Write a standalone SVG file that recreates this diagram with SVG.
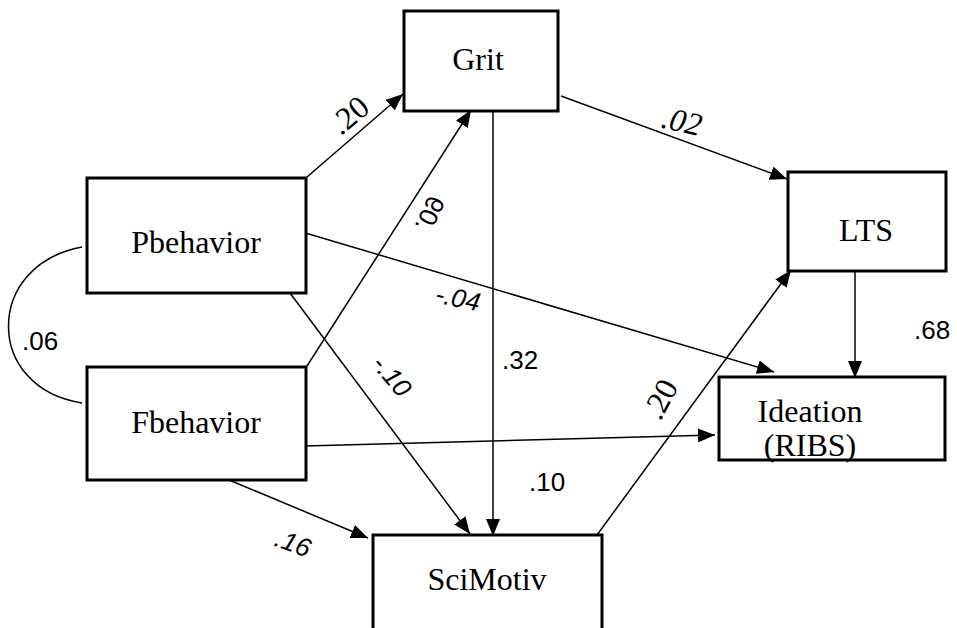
<svg xmlns="http://www.w3.org/2000/svg" width="957" height="628" viewBox="0 0 957 628">
<style>
.box{fill:#fff;stroke:#000;stroke-width:3}
.ln{fill:none;stroke:#000;stroke-width:1.5}
.nt{font-family:"Liberation Serif","Times New Roman",serif;font-size:32px;fill:#000;text-anchor:middle}
.ls{font-family:"Liberation Sans",Arial,sans-serif;font-size:26px;fill:#000}
.lt{font-family:"Liberation Serif","Times New Roman",serif;font-size:32px;fill:#000}
</style>
<defs>
<marker id="ah" markerUnits="userSpaceOnUse" markerWidth="18" markerHeight="14" refX="17" refY="7" orient="auto">
<path d="M0,0 L17,7 L0,14 z" fill="#000"/>
</marker>
</defs>
<rect width="957" height="628" fill="#fff"/>
<g id="connectors">
<line class="ln" x1="307" y1="177" x2="403" y2="94" marker-end="url(#ah)"/>
<line class="ln" x1="307" y1="366" x2="471" y2="110" marker-end="url(#ah)"/>
<line class="ln" x1="493" y1="112" x2="493" y2="536" marker-end="url(#ah)"/>
<line class="ln" x1="561" y1="96" x2="787" y2="179" marker-end="url(#ah)"/>
<line class="ln" x1="302" y1="232" x2="774" y2="372" marker-end="url(#ah)"/>
<line class="ln" x1="290" y1="293" x2="470" y2="534" marker-end="url(#ah)"/>
<line class="ln" x1="305" y1="446" x2="715" y2="435" marker-end="url(#ah)"/>
<line class="ln" x1="229" y1="480" x2="368" y2="538" marker-end="url(#ah)"/>
<line class="ln" x1="597" y1="535" x2="791" y2="270" marker-end="url(#ah)"/>
<line class="ln" x1="855" y1="272" x2="855" y2="378" marker-end="url(#ah)"/>
<path class="ln" d="M82,247 C -16,265 -16,388 82,403"/>
</g>
<g id="labels">
<text class="lt" transform="translate(349,115) rotate(-40)" text-anchor="middle" dominant-baseline="central">.20</text>
<text class="ls" transform="translate(430,214) rotate(-65) scale(1,-1)" text-anchor="middle" dominant-baseline="central">.09</text>
<text class="lt" font-style="italic" transform="translate(682,121) rotate(13)" text-anchor="middle" dominant-baseline="central">.02</text>
<text class="ls" font-style="italic" transform="translate(458,298) rotate(12)" text-anchor="middle" dominant-baseline="central">-.04</text>
<text class="ls" x="502" y="369">.32</text>
<text class="ls" font-style="italic" transform="translate(392,376) rotate(50)" text-anchor="middle" dominant-baseline="central">-.10</text>
<text class="lt" transform="translate(660,399) rotate(-62)" text-anchor="middle" dominant-baseline="central">.20</text>
<text class="ls" x="529" y="491">.10</text>
<text class="ls" font-style="italic" transform="translate(293,543) rotate(20)" text-anchor="middle" dominant-baseline="central">.16</text>
<text class="ls" x="914" y="339">.68</text>
<text class="ls" x="22" y="350">.06</text>
</g>
<g id="grit"><rect class="box" x="404" y="11" width="154" height="100"/><text class="nt" x="478" y="70">Grit</text></g>
<g id="pbehavior"><rect class="box" x="87" y="178" width="219" height="115"/><text class="nt" x="196" y="253">Pbehavior</text></g>
<g id="fbehavior"><rect class="box" x="87" y="367" width="219" height="113"/><text class="nt" x="196" y="433">Fbehavior</text></g>
<g id="lts"><rect class="box" x="788" y="172" width="158" height="99"/><text class="nt" x="866" y="241">LTS</text></g>
<g id="ideation"><rect class="box" x="719" y="377" width="226" height="83"/><text class="nt" x="810" y="422">Ideation</text><text class="nt" x="810" y="456">(RIBS)</text></g>
<g id="scimotiv"><rect class="box" x="373" y="535" width="229" height="100"/><text class="nt" x="487" y="590">SciMotiv</text></g>
</svg>
